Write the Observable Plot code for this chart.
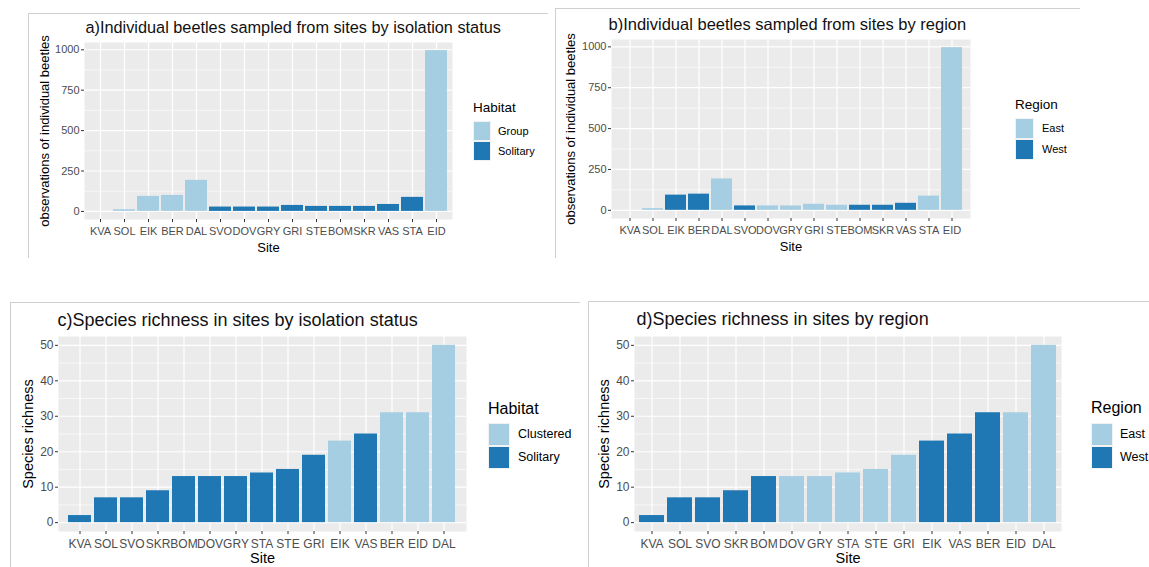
<!DOCTYPE html>
<html>
<head>
<meta charset="utf-8">
<script src="https://cdn.jsdelivr.net/npm/d3@7"></script>
<script src="https://cdn.jsdelivr.net/npm/@observablehq/plot@0.6"></script>
<style>
  html, body { margin: 0; padding: 0; background: #fff; }
  body { width: 1149px; height: 567px; position: relative; overflow: hidden; font-family: "Liberation Sans", Arial, sans-serif; }
  .line { position: absolute; background: #cfcfcf; }
  .ltitle { position: absolute; color: #000; white-space: nowrap; }
  .lkey { position: absolute; box-sizing: border-box; border: 1px solid #f2f2f2; }
  .llab { position: absolute; color: #000; white-space: nowrap; }
  svg { overflow: visible; }
</style>
</head>
<body>
<script>
// ---------- data ----------
const sitesAB = ["KVA","SOL","EIK","BER","DAL","SVO","DOV","GRY","GRI","STE","BOM","SKR","VAS","STA","EID"];
const beetleCounts = [0, 10, 93, 99, 192, 27, 27, 27, 37, 31, 31, 31, 43, 87, 995];
const habitatA = ["Group","Group","Group","Group","Group","Solitary","Solitary","Solitary","Solitary","Solitary","Solitary","Solitary","Solitary","Solitary","Group"];
const regionB = ["East","East","West","West","East","West","East","East","East","East","West","West","West","East","East"];

const sitesCD = ["KVA","SOL","SVO","SKR","BOM","DOV","GRY","STA","STE","GRI","EIK","VAS","BER","EID","DAL"];
const richness = [2, 7, 7, 9, 13, 13, 13, 14, 15, 19, 23, 25, 31, 31, 50];
const habitatC = ["Solitary","Solitary","Solitary","Solitary","Solitary","Solitary","Solitary","Solitary","Solitary","Solitary","Clustered","Solitary","Clustered","Clustered","Clustered"];
const regionD = ["West","West","West","West","West","East","East","East","East","East","West","West","West","East","East"];

const beetleTicks = [0, 250, 500, 750, 1000];
const beetleMinor = [125, 375, 625, 875];
const richTicks = [0, 10, 20, 30, 40, 50];
const richMinor = [5, 15, 25, 35, 45];

const palette = ["#A6CEE3", "#1F78B4"];
const FONT = '"Liberation Sans", Arial, sans-serif';

function el(cls, css, text) {
  const d = document.createElement("div");
  d.className = cls;
  Object.assign(d.style, css);
  if (text != null) d.textContent = text;
  document.body.appendChild(d);
  return d;
}

function panel(cfg) {
  const data = cfg.sites.map((s, i) => ({site: s, value: cfg.values[i], group: cfg.groups[i]}));
  const chart = Plot.plot({
    width: cfg.w, height: cfg.h,
    marginLeft: cfg.ml, marginRight: cfg.mr, marginTop: cfg.mt, marginBottom: cfg.mb,
    x: {domain: cfg.sites, paddingInner: 0.1, paddingOuter: 0.15, label: null},
    y: {domain: cfg.yDomain, label: null},
    color: {domain: cfg.legendDomain, range: palette},
    style: {fontFamily: FONT, background: "transparent", overflow: "visible"},
    marks: [
      Plot.frame({fill: "#EBEBEB", stroke: null}),
      Plot.ruleY(cfg.minor, {stroke: "white", strokeWidth: 0.6}),
      Plot.ruleY(cfg.ticks, {stroke: "white", strokeWidth: 1.2}),
      Plot.gridX({stroke: "white", strokeOpacity: 1, strokeWidth: 1.2}),
      Plot.barY(data, {x: "site", y: "value", fill: "group"}),
      Plot.axisY({ticks: cfg.ticks, tickFormat: d => String(d), tickSize: 3, tickPadding: 2, stroke: "#333333", fill: "#4D4D4D", fontSize: cfg.tickFont, label: null}),
      Plot.axisX({tickSize: 3, tickPadding: cfg.xPad, stroke: "#333333", fill: "#4D4D4D", fontSize: cfg.tickFont, label: null}),
      Plot.text([cfg.yLabel], {text: d => d, frameAnchor: "left", textAnchor: "middle", lineAnchor: "middle", dx: cfg.yLabelDx, rotate: -90, fontSize: cfg.axisFont, fill: "#000"}),
      Plot.text(["Site"], {text: d => d, frameAnchor: "bottom", textAnchor: "middle", lineAnchor: "middle", dy: cfg.xLabelDy, fontSize: cfg.axisFont, fill: "#000"}),
      Plot.text([cfg.title], {text: d => d, frameAnchor: "top-left", textAnchor: "start", lineAnchor: "middle", dx: cfg.titleDx, dy: cfg.titleDy, fontSize: cfg.titleFont, fill: "#111"})
    ]
  });
  chart.style.position = "absolute";
  chart.style.left = cfg.x + "px";
  chart.style.top = cfg.y + "px";
  document.body.appendChild(chart);

  // legend
  const L = cfg.legend;
  el("ltitle", {left: L.x + "px", top: (L.y - L.titleFont / 2) + "px", fontSize: L.titleFont + "px", lineHeight: L.titleFont + "px"}, cfg.legendTitle);
  cfg.legendDomain.forEach((name, i) => {
    el("lkey", {left: L.x + "px", top: (L.keyY + i * L.keyH) + "px", width: L.keyW + "px", height: L.keyH + "px", background: palette[i]});
    el("llab", {left: L.labX + "px", top: (L.keyY + i * L.keyH + L.keyH / 2 - L.labFont / 2) + "px", fontSize: L.labFont + "px", lineHeight: L.labFont + "px"}, name);
  });
}

// frame lines of the screenshot pieces
[
  [28, 13, 520, 1], [28, 13, 1, 245],
  [555, 8, 525, 1], [555, 8, 1, 250],
  [10, 302, 570, 1], [10, 302, 1, 265],
  [588, 301, 561, 1], [588, 301, 1, 266]
].forEach(([l, t, w, h]) => el("line", {left: l + "px", top: t + "px", width: w + "px", height: h + "px"}));

panel({
  x: 28, y: 13, w: 440, h: 245, ml: 56, mr: 16, mt: 29, mb: 39,
  sites: sitesAB, values: beetleCounts, groups: habitatA,
  yDomain: [-50, 1045], ticks: beetleTicks, minor: beetleMinor,
  legendDomain: ["Group", "Solitary"], legendTitle: "Habitat",
  title: "a)Individual beetles sampled from sites by isolation status",
  yLabel: "observations of individual beetles",
  tickFont: 11, axisFont: 13, titleFont: 16.3, xPad: 5,
  yLabelDx: -40, xLabelDy: 28, titleDx: 1, titleDy: -15,
  legend: {x: 473, y: 108, titleFont: 13.5, keyY: 121, keyW: 18, keyH: 20, labX: 498, labFont: 11}
});

panel({
  x: 555, y: 8, w: 431, h: 250, ml: 56, mr: 16, mt: 31, mb: 40,
  sites: sitesAB, values: beetleCounts, groups: regionB,
  yDomain: [-50, 1045], ticks: beetleTicks, minor: beetleMinor,
  legendDomain: ["East", "West"], legendTitle: "Region",
  title: "b)Individual beetles sampled from sites by region",
  yLabel: "observations of individual beetles",
  tickFont: 11, axisFont: 13, titleFont: 16.5, xPad: 5,
  yLabelDx: -41, xLabelDy: 28, titleDx: -3, titleDy: -15,
  legend: {x: 1015, y: 105, titleFont: 13.5, keyY: 118, keyW: 19, keyH: 21, labX: 1042, labFont: 11}
});

panel({
  x: 10, y: 302, w: 472, h: 265, ml: 48, mr: 16, mt: 34, mb: 36,
  sites: sitesCD, values: richness, groups: habitatC,
  yDomain: [-2.5, 52.5], ticks: richTicks, minor: richMinor,
  legendDomain: ["Clustered", "Solitary"], legendTitle: "Habitat",
  title: "c)Species richness in sites by isolation status",
  yLabel: "Species richness",
  tickFont: 12, axisFont: 14.5, titleFont: 18, xPad: 5,
  yLabelDx: -30, xLabelDy: 27, titleDx: -1, titleDy: -16,
  legend: {x: 488, y: 409, titleFont: 16, keyY: 423, keyW: 22, keyH: 23, labX: 518, labFont: 12.5}
});

panel({
  x: 588, y: 301, w: 489, h: 266, ml: 46, mr: 16, mt: 35, mb: 36,
  sites: sitesCD, values: richness, groups: regionD,
  yDomain: [-2.5, 52.5], ticks: richTicks, minor: richMinor,
  legendDomain: ["East", "West"], legendTitle: "Region",
  title: "d)Species richness in sites by region",
  yLabel: "Species richness",
  tickFont: 12, axisFont: 14.5, titleFont: 18, xPad: 5,
  yLabelDx: -30, xLabelDy: 27, titleDx: 2, titleDy: -17,
  legend: {x: 1091, y: 408, titleFont: 16, keyY: 423, keyW: 22, keyH: 23, labX: 1120, labFont: 12.5}
});
</script>
</body>
</html>
